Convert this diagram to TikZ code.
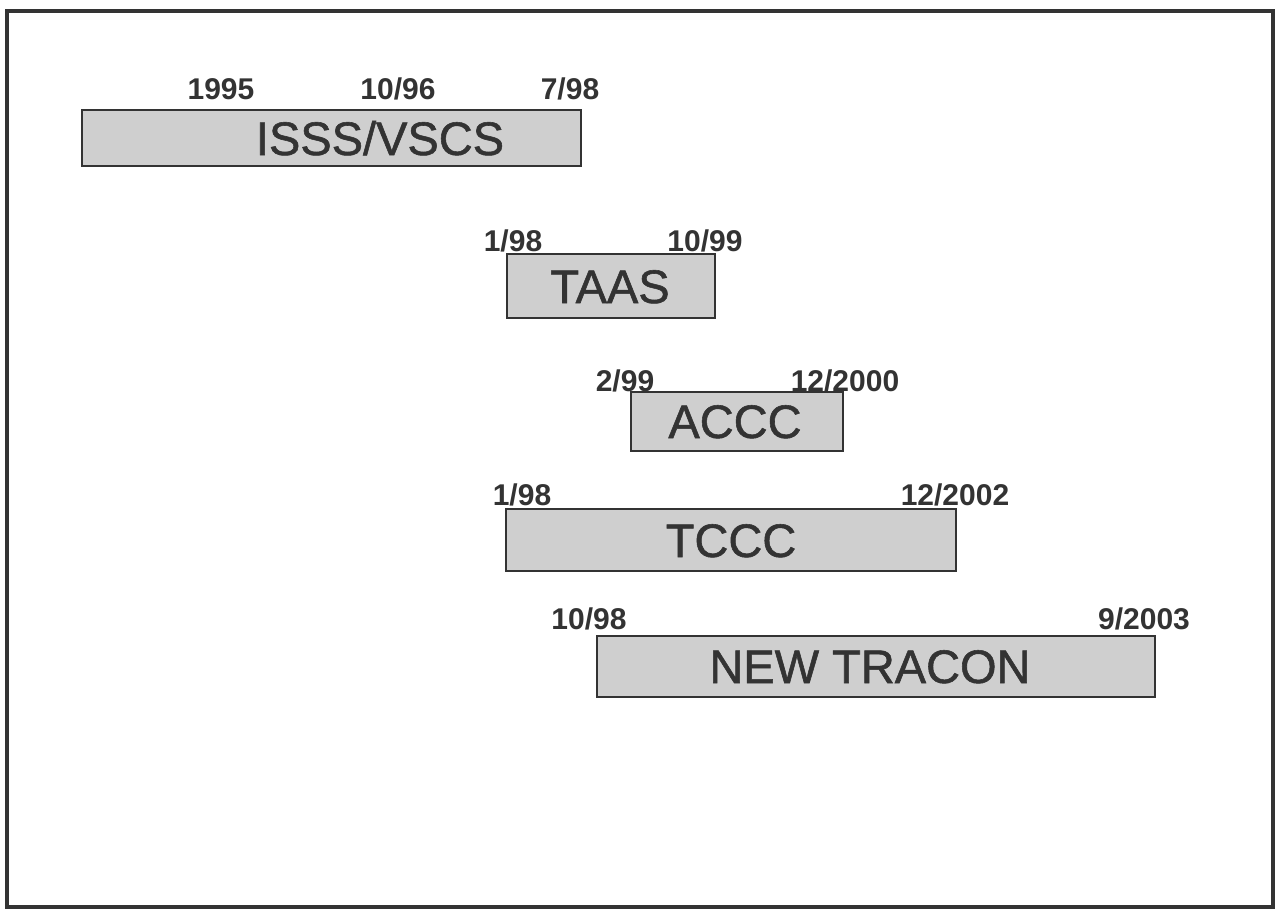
\documentclass[tikz,border=0pt]{standalone}
\usepackage{fontspec}
\setmainfont{Liberation Sans}
\newfontfamily\ttlfont[FakeBold=1.2]{Liberation Sans}
\definecolor{ink}{HTML}{333333}
\definecolor{barfill}{HTML}{CFCFCF}
\begin{document}
\begin{tikzpicture}[x=1pt,y=-1pt,
  bar/.style={draw=ink,line width=2pt,fill=barfill},
  ttl/.style={anchor=base,inner sep=0pt,text=ink,font=\ttlfont\fontsize{47}{47}\selectfont},
  lbl/.style={anchor=base,inner sep=0pt,text=ink,font=\bfseries\fontsize{30}{30}\selectfont}]
\useasboundingbox (0,0) rectangle (1276,910);
\draw[ink,line width=3.2pt] (7,11) rectangle (1273,907);
% ISSS/VSCS
\draw[bar] (82,110) rectangle (581,166);
\node[ttl] (t1) at (380,155) {ISSS/VSCS};
\node[lbl] (a1) at (221,99) {1995};
\node[lbl] (b1) at (398,99) {10/96};
\node[lbl] (c1) at (570,99) {7/98};
% TAAS
\draw[bar] (507,254) rectangle (715,318);
\node[ttl] (t2) at (610,303) {TAAS};
\node[lbl] (a2) at (513,251) {1/98};
\node[lbl] (b2) at (705,251) {10/99};
% ACCC
\draw[bar] (631,392) rectangle (843,451);
\node[ttl] (t3) at (735,438) {ACCC};
\node[lbl] (a3) at (625,391) {2/99};
\node[lbl] (b3) at (845,391) {12/2000};
% TCCC
\draw[bar] (506,509) rectangle (956,571);
\node[ttl] (t4) at (731,557) {TCCC};
\node[lbl] (a4) at (522,505) {1/98};
\node[lbl] (b4) at (955,505) {12/2002};
% NEW TRACON
\draw[bar] (597,636) rectangle (1155,697);
\node[ttl] (t5) at (870,683) {NEW TRACON};
\node[lbl] (a5) at (589,629) {10/98};
\node[lbl] (b5) at (1144,629) {9/2003};
\end{tikzpicture}
\end{document}
